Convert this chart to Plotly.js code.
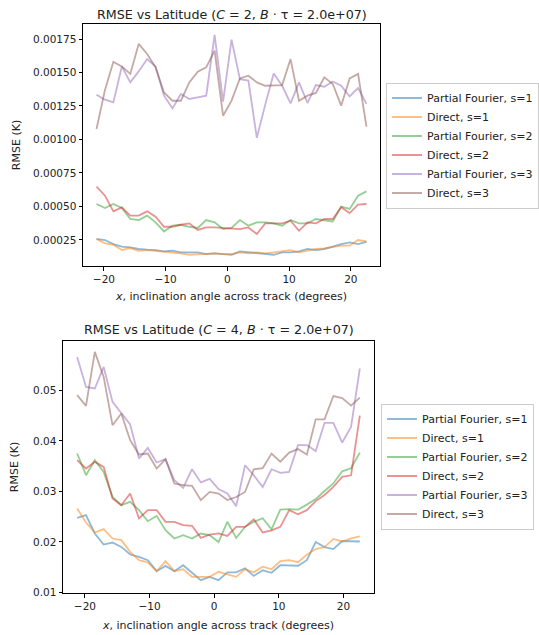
<!DOCTYPE html>
<html>
<head>
<meta charset="utf-8">
<script src="https://cdn.plot.ly/plotly-3.0.1.min.js"></script>
<style>
html,body{margin:0;padding:0;background:#fff;}
#chart{width:539px;height:635px;}
</style>
</head>
<body>
<div id="chart"></div>
<script>
// Inclination angle across track (degrees)
const angles = [-21.2, -19.83, -18.47, -17.1, -15.73, -14.37, -13.0, -11.63, -10.27, -8.9, -7.53, -6.17, -4.8, -3.43, -2.07, -0.7, 0.67, 2.03, 3.4, 4.77, 6.13, 7.5, 8.87, 10.23, 11.6, 12.97, 14.33, 15.7, 17.07, 18.43, 19.8, 21.17, 22.53];

const seriesNames = ["Partial Fourier, s=1", "Direct, s=1", "Partial Fourier, s=2", "Direct, s=2", "Partial Fourier, s=3", "Direct, s=3"];

// Panel 1: C = 2
const c2_pf_s1 = [0.000257, 0.000249, 0.000219, 0.000199, 0.000194, 0.000182, 0.000177, 0.000174, 0.000164, 0.000169, 0.000157, 0.000157, 0.000157, 0.000144, 0.000149, 0.000144, 0.000139, 0.000164, 0.000157, 0.000152, 0.000144, 0.000139, 0.000157, 0.000157, 0.000164, 0.000182, 0.000174, 0.000182, 0.000199, 0.000219, 0.000231, 0.000219, 0.000236];
const c2_d_s1 = [0.000257, 0.000224, 0.000214, 0.000174, 0.000189, 0.000169, 0.000174, 0.000169, 0.000162, 0.000157, 0.000149, 0.000139, 0.000144, 0.000149, 0.000149, 0.000144, 0.000144, 0.000157, 0.000149, 0.000157, 0.000149, 0.000157, 0.000164, 0.000174, 0.000157, 0.000169, 0.000182, 0.000187, 0.000199, 0.000207, 0.000207, 0.000249, 0.000239];
const c2_pf_s2 = [0.000518, 0.000488, 0.000518, 0.000488, 0.000406, 0.000398, 0.000431, 0.000381, 0.000313, 0.000356, 0.000363, 0.000348, 0.000339, 0.000398, 0.000381, 0.000331, 0.000339, 0.000398, 0.000356, 0.000381, 0.000381, 0.000373, 0.000356, 0.000398, 0.000373, 0.000373, 0.000406, 0.000398, 0.000388, 0.000498, 0.000481, 0.000580, 0.000612];
const c2_d_s2 = [0.000647, 0.000580, 0.000463, 0.000493, 0.000431, 0.000431, 0.000463, 0.000423, 0.000348, 0.000348, 0.000363, 0.000373, 0.000324, 0.000343, 0.000343, 0.000339, 0.000331, 0.000331, 0.000343, 0.000294, 0.000373, 0.000373, 0.000373, 0.000393, 0.000318, 0.000381, 0.000373, 0.000406, 0.000406, 0.000493, 0.000450, 0.000513, 0.000518];
const c2_pf_s3 = [0.001334, 0.001297, 0.001277, 0.001545, 0.001426, 0.001508, 0.001600, 0.001545, 0.001327, 0.001232, 0.001339, 0.001302, 0.001314, 0.001327, 0.001780, 0.001282, 0.001745, 0.001450, 0.001439, 0.001012, 0.001260, 0.001493, 0.001401, 0.001269, 0.001426, 0.001272, 0.001406, 0.001394, 0.001433, 0.001401, 0.001321, 0.001384, 0.001265];
const c2_d_s3 = [0.001078, 0.001370, 0.001580, 0.001545, 0.001489, 0.001713, 0.001638, 0.001538, 0.001351, 0.001289, 0.001289, 0.001426, 0.001506, 0.001538, 0.001663, 0.001177, 0.001290, 0.001456, 0.001476, 0.001426, 0.001401, 0.001406, 0.001406, 0.001600, 0.001289, 0.001327, 0.001347, 0.001464, 0.001414, 0.001252, 0.001456, 0.001489, 0.001095];

// Panel 2: C = 4
const c4_pf_s1 = [0.02478, 0.02531, 0.02168, 0.0195, 0.0199, 0.01903, 0.01752, 0.01705, 0.0164, 0.01422, 0.01527, 0.01422, 0.0154, 0.01396, 0.01244, 0.0131, 0.01244, 0.0140, 0.0140, 0.0148, 0.0133, 0.0144, 0.0139, 0.0154, 0.0153, 0.0153, 0.0164, 0.0200, 0.0190, 0.0186, 0.0202, 0.0202, 0.0201];
const c4_d_s1 = [0.02663, 0.02386, 0.02188, 0.02254, 0.02069, 0.02036, 0.01804, 0.0164, 0.01594, 0.01422, 0.0162, 0.01422, 0.01461, 0.0131, 0.0131, 0.0131, 0.0141, 0.0136, 0.0131, 0.0146, 0.0140, 0.0151, 0.0146, 0.0162, 0.0164, 0.0160, 0.0175, 0.0186, 0.0190, 0.0206, 0.0201, 0.0207, 0.0211];
const c4_pf_s2 = [0.03752, 0.03323, 0.0362, 0.03388, 0.02893, 0.02729, 0.02794, 0.0263, 0.02412, 0.02517, 0.02234, 0.02069, 0.02135, 0.02069, 0.02168, 0.02135, 0.0200, 0.0240, 0.0208, 0.0230, 0.0240, 0.0247, 0.0225, 0.0264, 0.0265, 0.0264, 0.0274, 0.0285, 0.0301, 0.0316, 0.0340, 0.0346, 0.0377];
const c4_d_s2 = [0.0362, 0.03455, 0.03586, 0.03488, 0.02861, 0.02729, 0.0296, 0.02465, 0.0263, 0.0263, 0.02398, 0.02398, 0.02333, 0.0232, 0.02081, 0.02147, 0.0217, 0.0212, 0.0230, 0.0230, 0.0245, 0.0219, 0.0223, 0.0230, 0.0263, 0.0255, 0.0263, 0.0281, 0.0293, 0.0309, 0.0329, 0.0332, 0.0450];
const c4_pf_s3 = [0.05665, 0.05071, 0.0504, 0.05467, 0.04774, 0.04545, 0.04327, 0.03653, 0.03863, 0.03574, 0.0364, 0.03224, 0.03071, 0.03442, 0.0318, 0.0325, 0.0305, 0.0296, 0.0271, 0.0352, 0.0332, 0.0309, 0.0344, 0.0337, 0.0339, 0.0392, 0.0392, 0.0380, 0.0436, 0.0436, 0.0397, 0.0428, 0.0544];
const c4_d_s3 = [0.04907, 0.04695, 0.05764, 0.05269, 0.04313, 0.04545, 0.04016, 0.03733, 0.03752, 0.03455, 0.0364, 0.03158, 0.03125, 0.03111, 0.02828, 0.02992, 0.0296, 0.0283, 0.0289, 0.0299, 0.0344, 0.0346, 0.0375, 0.0359, 0.0377, 0.0384, 0.0373, 0.0443, 0.0443, 0.0489, 0.0485, 0.0470, 0.0486];

const topTicks = [0.00025, 0.0005, 0.00075, 0.001, 0.00125, 0.0015, 0.00175];
const botTicks = [0.01, 0.02, 0.03, 0.04, 0.05];
const xTicks = [-20, -10, 0, 10, 20];

const colors = ["#1f77b4", "#ff7f0e", "#2ca02c", "#d62728", "#9467bd", "#8c564b"];

const topSeries = [c2_pf_s1, c2_d_s1, c2_pf_s2, c2_d_s2, c2_pf_s3, c2_d_s3];
const botSeries = [c4_pf_s1, c4_d_s1, c4_pf_s2, c4_d_s2, c4_pf_s3, c4_d_s3];

const W = 539, H = 635;
const traces = [];
topSeries.forEach((ys, k) => {
  traces.push({
    x: angles, y: ys, type: "scatter", mode: "lines", name: seriesNames[k],
    xaxis: "x", yaxis: "y", legend: "legend",
    line: {color: colors[k], width: 1.8}, opacity: 0.5
  });
});
botSeries.forEach((ys, k) => {
  traces.push({
    x: angles, y: ys, type: "scatter", mode: "lines", name: seriesNames[k],
    xaxis: "x2", yaxis: "y2", legend: "legend2",
    line: {color: colors[k], width: 1.8}, opacity: 0.5
  });
});

const FAM = "DejaVu Sans, sans-serif";
const tickFont = {family: FAM, size: 10.5, color: "#222"};
const labFont = {family: FAM, size: 11, color: "#222"};
const legFont = {family: FAM, size: 11, color: "#222"};
const ttlFont = {family: FAM, size: 12.7, color: "#222"};
const axisBase = {
  showline: true, mirror: true, linecolor: "#000", linewidth: 1,
  ticks: "outside", ticklen: 3.5, tickwidth: 0.8, tickcolor: "#000",
  showgrid: false, zeroline: false, tickfont: tickFont
};
const xRange = [-23.39, 24.72];
const xTitle = (s) => ({text: "<i>x</i>, inclination angle across track (degrees)", font: labFont, standoff: s});
const yTitle = (s) => ({text: "RMSE (K)", font: labFont, standoff: s});

const layout = {
  width: W, height: H,
  margin: {l: 0, r: 0, t: 0, b: 0},
  paper_bgcolor: "#fff", plot_bgcolor: "#fff",
  font: tickFont,
  xaxis: Object.assign({}, axisBase, {
    domain: [83 / W, 380 / W], anchor: "y", range: xRange,
    tickvals: xTicks, title: xTitle(8)
  }),
  yaxis: Object.assign({}, axisBase, {
    domain: [1 - 266 / H, 1 - 24 / H], anchor: "x",
    range: [0.000055, 0.001862], tickvals: topTicks, tickformat: ".5f",
    title: yTitle(10)
  }),
  xaxis2: Object.assign({}, axisBase, {
    domain: [63 / W, 374 / W], anchor: "y2", range: xRange,
    tickvals: xTicks, title: xTitle(10)
  }),
  yaxis2: Object.assign({}, axisBase, {
    domain: [1 - 593 / H, 1 - 341 / H], anchor: "x2",
    range: [0.0099, 0.0598], tickvals: botTicks, tickformat: ".2f",
    title: yTitle(12)
  }),
  legend: {
    x: 386 / W, y: 1 - 145.5 / H, xanchor: "left", yanchor: "middle",
    bgcolor: "rgba(255,255,255,0.8)", bordercolor: "#cccccc", borderwidth: 1,
    font: legFont, traceorder: "normal"
  },
  legend2: {
    x: 381 / W, y: 1 - 466.5 / H, xanchor: "left", yanchor: "middle",
    bgcolor: "rgba(255,255,255,0.8)", bordercolor: "#cccccc", borderwidth: 1,
    font: legFont, traceorder: "normal"
  },
  showlegend: true,
  annotations: [
    {text: "RMSE vs Latitude (<i>C</i> = 2, <i>B</i> · τ = 2.0e+07)", xref: "paper", yref: "paper",
     x: 231.5 / W, y: 1 - 14 / H, xanchor: "center", yanchor: "middle", showarrow: false,
     font: ttlFont},
    {text: "RMSE vs Latitude (<i>C</i> = 4, <i>B</i> · τ = 2.0e+07)", xref: "paper", yref: "paper",
     x: 218.5 / W, y: 1 - 329 / H, xanchor: "center", yanchor: "middle", showarrow: false,
     font: ttlFont}
  ]
};

Plotly.newPlot("chart", traces, layout, {displayModeBar: false, responsive: false});
</script>
</body>
</html>
